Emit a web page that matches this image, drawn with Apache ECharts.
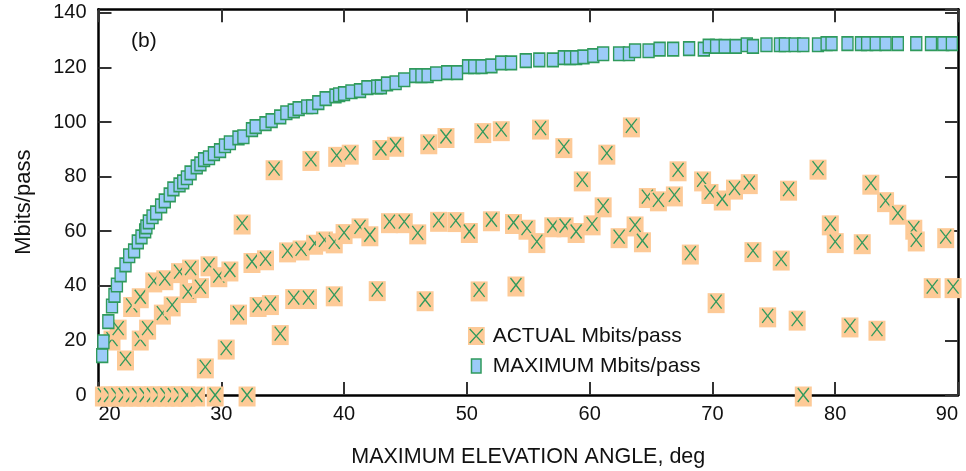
<!DOCTYPE html>
<html>
<head>
<meta charset="utf-8">
<script src="https://cdn.jsdelivr.net/npm/echarts@6/dist/echarts.min.js"></script>
<style>html,body{margin:0;padding:0;background:#fff}#c{width:966px;height:471px}</style>
</head>
<body>
<div id="c"></div>
<script>
// ---- data ----
const xTicks = [20, 30, 40, 50, 60, 70, 80, 90];
const yTicks = [0, 20, 40, 60, 80, 100, 120, 140];

const actualX = [20.4, 20.9, 21.1, 21.5, 21.6, 22.1, 22.2, 22.7, 22.7, 23.2, 23.4, 23.4, 23.8, 24.0, 24.4, 24.5, 24.9, 25.2, 25.4, 25.5, 26.0, 26.1, 26.6, 26.6, 27.2, 27.3, 27.5, 28.0, 28.3, 28.7, 29.0, 29.5, 29.8, 30.4, 30.7, 31.4, 31.7, 32.1, 32.5, 33.0, 33.6, 34.0, 34.3, 34.8, 35.4, 35.9, 36.5, 37.1, 37.3, 37.6, 38.4, 39.2, 39.2, 39.4, 40.0, 40.5, 41.3, 42.1, 42.7, 43.0, 43.7, 44.2, 44.9, 46.0, 46.6, 46.9, 47.7, 48.3, 49.1, 50.2, 51.0, 51.3, 52.0, 52.8, 53.8, 54.0, 54.9, 55.7, 56.0, 57.0, 57.9, 58.0, 58.9, 59.4, 60.2, 61.1, 61.4, 62.4, 63.4, 63.7, 64.3, 64.7, 65.6, 66.9, 67.2, 68.2, 69.2, 69.8, 70.3, 70.8, 71.8, 73.0, 73.3, 74.5, 75.6, 76.2, 76.9, 77.4, 78.6, 79.6, 80.0, 81.2, 82.2, 82.9, 83.4, 84.1, 85.1, 86.4, 86.6, 87.9, 89.0, 89.6];
const actualY = [0, 0, 20.5, 0, 24.5, 0, 13.2, 0, 32.8, 0, 20.5, 36.0, 0, 24.5, 0, 41.8, 0, 30.0, 42.6, 0, 33.0, 0, 0, 45.2, 0, 37.9, 46.5, 0, 39.7, 10.3, 47.7, 0, 43.7, 17.2, 45.8, 30.0, 63.0, 0, 48.9, 32.8, 49.9, 33.5, 82.9, 22.5, 52.8, 35.7, 53.5, 35.7, 86.3, 55.6, 56.8, 56.1, 36.7, 87.8, 59.5, 88.6, 61.6, 58.7, 38.6, 90.3, 63.5, 91.5, 63.5, 59.4, 34.9, 92.4, 64.0, 94.7, 63.9, 59.9, 38.5, 96.5, 64.2, 97.2, 63.2, 40.3, 61.1, 56.2, 97.8, 62.0, 91.0, 62.0, 59.9, 78.8, 62.7, 69.3, 88.6, 58.0, 98.6, 62.3, 56.5, 72.7, 71.5, 73.3, 82.5, 52.0, 78.8, 74.2, 34.2, 71.8, 75.8, 77.8, 52.9, 29.0, 49.8, 75.4, 27.8, 0, 83.1, 62.7, 56.2, 25.3, 55.8, 77.6, 24.1, 71.2, 66.6, 61.1, 56.8, 39.7, 58.0, 39.7];

const maxX = [20.3, 20.4, 20.8, 21.1, 21.3, 21.5, 21.8, 22.2, 22.5, 22.9, 23.2, 23.5, 23.8, 23.9, 24.1, 24.4, 24.7, 25.1, 25.4, 25.8, 26.1, 26.6, 26.9, 27.2, 27.5, 28.0, 28.3, 28.6, 29.0, 29.4, 29.9, 30.3, 30.7, 31.4, 31.8, 32.5, 32.8, 33.6, 34.1, 34.8, 35.3, 35.9, 36.3, 37.0, 37.4, 37.9, 38.5, 39.3, 39.6, 40.0, 40.6, 41.3, 41.9, 42.7, 43.0, 43.5, 44.2, 44.9, 45.8, 46.3, 46.8, 47.5, 48.4, 49.2, 50.1, 50.6, 51.2, 52.0, 52.8, 53.6, 54.8, 55.9, 57.0, 57.9, 58.4, 58.9, 59.5, 60.3, 61.1, 62.4, 63.2, 63.7, 64.8, 65.7, 66.8, 68.1, 69.3, 69.7, 70.3, 71.0, 71.9, 72.8, 73.3, 74.4, 75.5, 75.9, 76.7, 77.4, 78.6, 79.3, 79.7, 81.0, 82.1, 82.6, 83.3, 84.1, 85.1, 86.6, 87.8, 88.8, 89.5];
const maxY = [14.4, 19.5, 26.9, 32.6, 36.5, 40.3, 44.0, 47.7, 51.0, 52.8, 56.1, 57.9, 60.1, 61.6, 63.4, 65.3, 66.7, 69.3, 71.1, 73.3, 75.5, 77.0, 78.1, 79.6, 81.4, 83.6, 84.7, 86.2, 86.9, 88.4, 89.5, 91.3, 92.4, 94.2, 94.6, 97.2, 98.3, 99.4, 100.5, 101.9, 103.4, 104.1, 104.9, 105.6, 105.6, 107.1, 108.6, 109.6, 110.0, 110.4, 111.1, 111.5, 112.6, 112.9, 112.9, 114.0, 114.4, 115.5, 117.0, 117.0, 117.0, 117.7, 118.1, 118.1, 120.3, 120.3, 120.3, 120.6, 121.7, 121.7, 122.5, 122.8, 122.8, 123.6, 123.6, 123.6, 123.9, 124.3, 125.0, 125.0, 125.0, 126.1, 126.1, 126.7, 126.7, 126.9, 126.7, 127.8, 127.7, 127.7, 127.7, 128.3, 127.7, 128.3, 128.3, 128.3, 128.3, 128.3, 128.3, 128.7, 128.7, 128.7, 128.7, 128.7, 128.7, 128.7, 128.7, 128.7, 128.7, 128.7, 128.7];

// ---- styles ----
const ORANGE = '#fdca97';
const BLUE = '#9ccbf8';
const GREEN = '#2f9a5c';
const FONT = '"Liberation Sans", Arial, Helvetica, sans-serif';

const actualData = actualX.map((x, i) => [x, actualY[i]]);
const maxData = maxX.map((x, i) => [x, maxY[i]]);

const svgActual = "<svg xmlns='http://www.w3.org/2000/svg' width='20' height='18'>" +
  "<rect x='0' y='0' width='17' height='18' fill='" + ORANGE + "'/>" +
  "<path d='M2 2 L15 16 M15 2 L2 16' stroke='" + GREEN + "' stroke-width='1.2' fill='none'/></svg>";
const svgMax = "<svg xmlns='http://www.w3.org/2000/svg' width='20' height='18'>" +
  "<rect x='3.8' y='2' width='9.5' height='14' fill='" + BLUE + "' stroke='" + GREEN + "' stroke-width='1.5'/></svg>";

const chart = echarts.init(document.getElementById('c'), null, {renderer: 'canvas'});

const axisLineStyle = {color: '#000', width: 2.5};
const tickStyle = {color: '#333', width: 2};

function xAxisCommon(pos, showLabel) {
  return {
    type: 'value', position: pos, min: xTicks[0], max: xTicks[xTicks.length - 1], interval: 10,
    axisLine: {show: true, onZero: false, lineStyle: axisLineStyle},
    axisTick: {show: true, inside: true, length: 13, lineStyle: tickStyle},
    splitLine: {show: false},
    axisLabel: {show: showLabel, fontSize: 20, color: '#111', fontFamily: FONT, margin: 9,
      alignMinLabel: 'left', alignMaxLabel: 'right'}
  };
}
function yAxisCommon(pos, showLabel) {
  return {
    type: 'value', position: pos, min: yTicks[0], max: 141.3, interval: 20,
    axisLine: {show: true, onZero: false, lineStyle: axisLineStyle},
    axisTick: {show: true, inside: true, length: 13, lineStyle: tickStyle},
    splitLine: {show: false},
    axisLabel: {show: showLabel, fontSize: 20, color: '#111', fontFamily: FONT, margin: 12,
      showMaxLabel: false}
  };
}

const xb = xAxisCommon('bottom', true);
xb.name = 'MAXIMUM ELEVATION ANGLE, deg';
xb.nameLocation = 'middle';
xb.nameGap = 51;
xb.nameTextStyle = {fontSize: 21.5, color: '#111', fontFamily: FONT};
const xt = xAxisCommon('top', false);
const yl = yAxisCommon('left', true);
yl.name = 'Mbits/pass';
yl.nameLocation = 'middle';
yl.nameGap = 64;
yl.nameRotate = 90;
yl.nameTextStyle = {fontSize: 22, color: '#111', fontFamily: FONT};
const yr = yAxisCommon('right', false);

chart.setOption({
  animation: false,
  backgroundColor: '#fff',
  title: {text: '(b)', left: 131, top: 31, padding: 0,
    textStyle: {fontSize: 21, fontWeight: 'normal', color: '#111', fontFamily: FONT}},
  grid: {left: 98.5, top: 9.3, width: 859.5, height: 385.7, outerBoundsMode: 'none', containLabel: false},
  xAxis: [xb, xt],
  yAxis: [yl, yr],
  legend: {
    orient: 'vertical', left: 467.7, top: 325.5, itemWidth: 20, itemHeight: 18, itemGap: 9,
    selectedMode: false, padding: 0,
    textStyle: {fontSize: 21, color: '#111', fontFamily: FONT},
    data: [
      {name: 'ACTUAL Mbits/pass', icon: 'image://data:image/svg+xml;charset=utf-8,' + encodeURIComponent(svgActual)},
      {name: 'MAXIMUM Mbits/pass', icon: 'image://data:image/svg+xml;charset=utf-8,' + encodeURIComponent(svgMax)}
    ]
  },
  series: [
    {
      name: 'ACTUAL Mbits/pass', type: 'custom', clip: false, z: 2,
      data: actualData,
      renderItem: function (params, api) {
        const p = api.coord([api.value(0), api.value(1)]);
        return {
          type: 'group',
          children: [
            {type: 'rect', shape: {x: p[0] - 8.5, y: p[1] - 8.5, width: 17, height: 20}, style: {fill: ORANGE}},
            {type: 'line', shape: {x1: p[0] - 5.5, y1: p[1] - 7, x2: p[0] + 5.5, y2: p[1] + 7}, style: {stroke: GREEN, lineWidth: 1.3}},
            {type: 'line', shape: {x1: p[0] + 5.5, y1: p[1] - 7, x2: p[0] - 5.5, y2: p[1] + 7}, style: {stroke: GREEN, lineWidth: 1.3}}
          ]
        };
      }
    },
    {
      name: 'MAXIMUM Mbits/pass', type: 'scatter', clip: false, z: 3,
      data: maxData,
      symbol: 'rect', symbolSize: [11, 13.5],
      itemStyle: {color: BLUE, borderColor: GREEN, borderWidth: 1.5, opacity: 1}
    }
  ]
});
</script>
</body>
</html>
